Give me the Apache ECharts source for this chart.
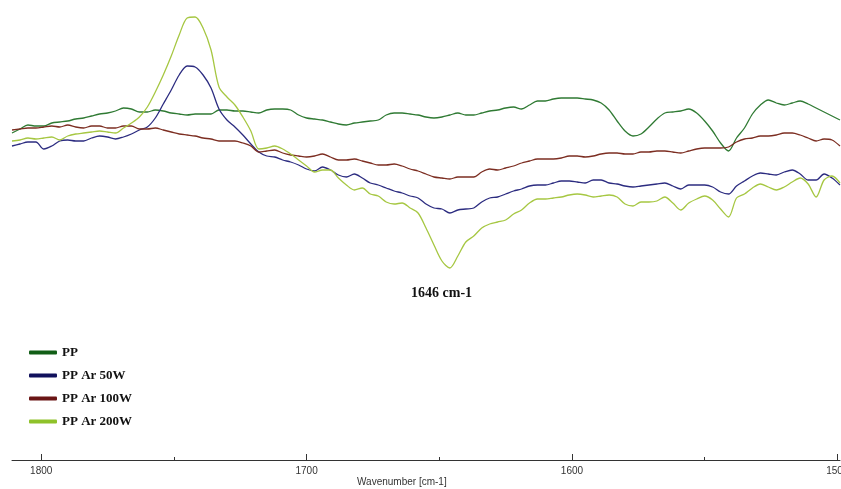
<!DOCTYPE html>
<html>
<head>
<meta charset="utf-8">
<script src="https://cdn.jsdelivr.net/npm/echarts@6/dist/echarts.min.js"></script>
<style>html,body{margin:0;padding:0;background:#fff;}#c{width:841px;height:489px;}</style>
</head>
<body>
<div id="c"></div>
<script>
// Wavenumbers (cm-1), 1811 down to 1499, step 3
const wavenumbers = [];
for (let w = 1811; w >= 1499; w -= 3) wavenumbers.push(w);

const seriesNames = ['PP', 'PP Ar 50W', 'PP Ar 100W', 'PP Ar 200W'];

const pp = [167,171,175,174,174,177,178,179,181,182,184,186,187,189,192,191,188,188,190,189,187,186,185,186,186,186,190,190,189,189,188,187,190,191,191,190,185,182,181,180,178,176,175,177,178,179,180,185,187,187,186,185,183,182,183,185,187,185,185,187,189,190,192,193,191,195,199,199,201,202,202,202,201,200,197,190,179,169,164,166,173,181,187,188,189,191,187,179,169,157,149,162,172,186,195,200,197,195,197,199,196,192,188,184,180];

const ppAr50 = [154,156,158,158,151,154,159,160,159,159,162,164,163,161,163,166,170,173,182,196,210,225,234,233,225,212,191,180,173,165,156,148,144,143,140,138,135,131,129,133,130,125,123,126,122,117,115,112,109,107,104,102,96,92,91,87,90,91,92,98,102,103,106,109,111,114,115,115,117,119,119,118,117,120,120,117,116,114,113,114,115,116,117,114,111,115,115,115,113,108,106,114,119,124,127,126,125,128,130,126,120,120,126,122,115];

const ppAr100 = [170,171,172,172,173,174,173,175,173,172,174,174,172,172,174,174,171,171,172,170,168,166,165,164,162,161,159,159,159,157,154,148,149,150,147,145,144,143,144,146,143,140,140,141,139,137,135,135,136,134,131,129,126,123,122,121,123,123,123,128,131,130,132,134,137,139,141,141,141,142,144,144,143,144,146,147,147,146,146,148,148,149,149,148,147,149,151,152,152,152,153,158,161,162,164,164,165,167,167,165,162,159,161,160,154];

const ppAr200 = [159,160,162,161,162,163,160,164,166,167,168,169,168,167,172,177,183,193,208,225,244,265,282,283,272,250,213,203,195,183,169,151,152,154,151,146,140,134,128,130,130,122,115,110,112,106,104,98,96,97,92,87,72,55,39,32,44,58,64,72,76,78,80,86,90,97,101,101,102,103,105,106,105,103,104,105,103,96,94,98,98,99,103,97,90,97,101,104,100,91,83,102,106,112,116,113,110,113,118,122,116,103,120,124,117];

const majorTicks = [1800, 1700, 1600, 1500];
const minorTicks = [1750, 1650, 1550];
const annotation = '1646 cm-1';
const axisTitle = 'Wavenumber [cm-1]';

const lineColors = ['#2f7a33', '#2c2c80', '#7c2e22', '#a6c742'];
const legendColors = ['#115e16', '#11115c', '#6a1515', '#8fc22a'];
const allValues = [pp, ppAr50, ppAr100, ppAr200];

const chart = echarts.init(document.getElementById('c'), null, {renderer: 'canvas', width: 841, height: 489});

chart.setOption({
  animation: false,
  backgroundColor: '#ffffff',
  grid: {left: 12, right: 1, top: 0, bottom: 29, containLabel: false, outerBoundsMode: 'none'},
  xAxis: {
    type: 'value', inverse: true, min: 1499, max: 1811, splitLine: {show: false},
    position: 'bottom',
    axisLine: {show: true, onZero: false, lineStyle: {color: '#333', width: 1}},
    axisTick: {show: true, inside: true, length: 6, customValues: majorTicks, lineStyle: {color: '#333'}},
    axisLabel: {show: true, customValues: majorTicks, margin: 6, color: '#333', fontSize: 10,
      fontFamily: 'Liberation Sans', formatter: v => String(v)}
  },
  yAxis: {type: 'value', min: -160, max: 300, show: false},
  legend: {
    orient: 'vertical', left: 29, top: 346, itemGap: 10, padding: 0,
    itemWidth: 28, itemHeight: 4, icon: 'roundRect',
    textStyle: {fontFamily: 'Liberation Serif', fontWeight: 'bold', fontSize: 13, color: '#111'},
    data: seriesNames.map((n, i) => ({name: n, itemStyle: {color: legendColors[i]}}))
  },
  graphic: [
    {type: 'text', left: 411, top: 286, style: {text: annotation, font: 'bold 14px "Liberation Serif"', fill: '#111'}},
    {type: 'text', left: 357, top: 477, style: {text: axisTitle, font: '10px "Liberation Sans"', fill: '#333'}}
  ],
  series: seriesNames.map((n, i) => ({
    name: n, type: 'line',
    data: wavenumbers.map((w, j) => [w, allValues[i][j]]),
    showSymbol: false, smooth: 0.3,
    lineStyle: {color: lineColors[i], width: 1.3},
    itemStyle: {color: lineColors[i]},
    markLine: i === 0 ? {
      silent: true, symbol: 'none', label: {show: false}, animation: false,
      lineStyle: {color: '#333', width: 1, type: 'solid'},
      data: minorTicks.map(t => [{coord: [t, -160]}, {coord: [t, -160 + 3]}])
    } : undefined
  }))
});
</script>
</body>
</html>
